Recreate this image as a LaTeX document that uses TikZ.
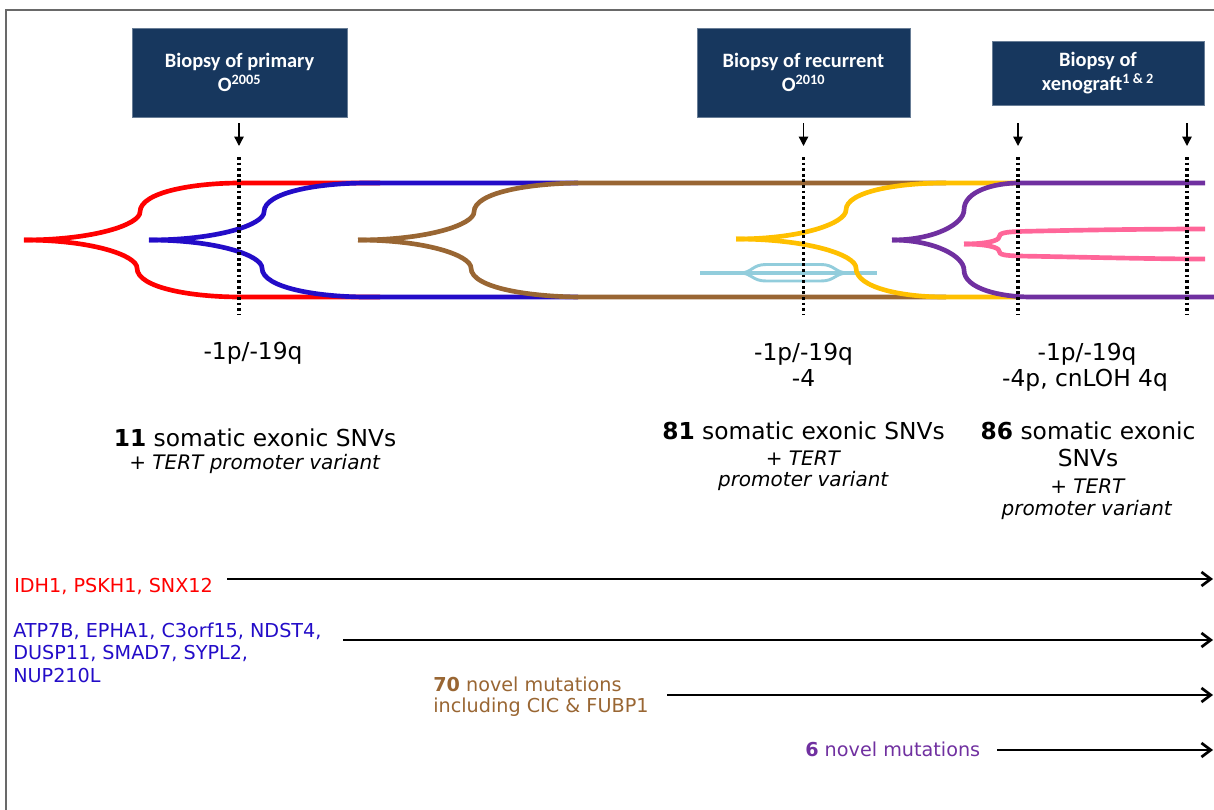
\documentclass[tikz,border=0pt]{standalone}
\usepackage{fontspec}
\setmainfont{DejaVu Sans}
\newfontfamily\boxfont{Carlito}
\usetikzlibrary{arrows.meta}
\definecolor{cred}{RGB}{255,0,0}
\definecolor{cblue}{RGB}{35,12,200}
\definecolor{cbrown}{RGB}{153,102,51}
\definecolor{cyellow}{RGB}{255,192,0}
\definecolor{clight}{RGB}{146,205,220}
\definecolor{cpurple}{RGB}{112,48,160}
\definecolor{cpink}{RGB}{255,102,153}
\definecolor{cnavy}{RGB}{23,55,94}
\definecolor{cframe}{RGB}{105,105,105}
% clade branch: style, root x,y, inflection x,y, join x,y, end x
\newcommand{\drawclade}[8]{%
  \draw[clade,#1] (#2,#3) .. controls ({#2+0.6*(#4-#2)},#3) and (#4,{#3+0.55*(#5-#3)}) .. (#4,#5)
     .. controls (#4,{#5+0.7*(#7-#5)}) and ({#4+0.55*(#6-#4)},#7) .. (#6,#7) -- (#8,#7);}
\tikzset{
  clade/.style={line width=3.5pt},
  biopsybox/.style={fill=cnavy, draw=cnavy!65!white, line width=0.4pt, text=white,
    font=\boxfont\bfseries\fontsize{15.3}{18.3}\selectfont, align=center, inner sep=0pt},
  marker/.style={-{Triangle[width=7pt,length=7pt]}, line width=1pt},
  sampleline/.style={line width=2.6pt, dash pattern=on 2.1pt off 2.1pt},
  timeline/.style={-{Straight Barb[length=7pt,width=10.5pt]}, line width=2pt},
  bigtext/.style={anchor=base, inner sep=0pt, font=\fontsize{17.5}{21}\selectfont},
  ittext/.style={anchor=base, inner sep=0pt, font=\fontsize{15}{18}\selectfont},
  genetext/.style={anchor=base west, inner sep=0pt, font=\fontsize{14.4}{17}\selectfont},
}
\begin{document}
\begin{tikzpicture}[x=0.75pt,y=-0.75pt]
\useasboundingbox (0,0) rectangle (1214,810);
% frame
\draw[cframe, line width=1.1pt] (6,810) -- (6,10) -- (1214,10);

% biopsy boxes
\node[biopsybox, minimum width=161.25pt, minimum height=66.75pt] (b1) at (239.5,72.5) {Biopsy of primary\\O\textsuperscript{2005}};
\node[biopsybox, minimum width=159.75pt, minimum height=66.75pt] (b2) at (803.5,72.5) {Biopsy of recurrent\\O\textsuperscript{2010}};
\node[biopsybox, minimum width=159pt, minimum height=48pt] (b3) at (1098,73) {Biopsy of\\xenograft\textsuperscript{1 \& 2}};

% clades
\drawclade{cred}{24}{240}{140}{212}{240}{183}{380}
\drawclade{cred}{24}{240}{137}{268}{240}{297}{380}
\drawclade{cblue}{149}{240}{264}{212}{367}{183}{578}
\drawclade{cblue}{149}{240}{262}{268}{367}{297}{578}
\drawclade{cbrown}{358}{240}{474}{212}{582}{183}{946}
\drawclade{cbrown}{358}{240}{471}{268}{582}{297}{946}
% light blue minor clone
\draw[clight, line width=3.3pt] (700,273) -- (877,273);
\draw[clight, line width=2.2pt] (740,273) .. controls (752,273) and (752,264.5) .. (766,264.5) -- (821,264.5) .. controls (835,264.5) and (835,273) .. (848,273);
\draw[clight, line width=2.2pt] (740,273) .. controls (752,273) and (752,281) .. (766,281) -- (821,281) .. controls (835,281) and (835,273) .. (848,273);
\drawclade{cyellow}{736}{239}{846}{210}{944}{183}{1020}
\drawclade{cyellow}{736}{239}{856}{268}{944}{297}{1020}
\drawclade{cpurple}{892}{240}{964}{210}{1019}{183}{1205}
\drawclade{cpurple}{892}{240}{964}{270}{1031}{297}{1214}
% pink sub-clones
\draw[cpink, clade] (964,244) .. controls (985,244) and (999,241) .. (999,237) .. controls (999,233) and (1006,232) .. (1018,231.5) .. controls (1080,230) and (1150,229) .. (1205,229);
\draw[cpink, clade] (964,244) .. controls (985,244) and (999,247) .. (999,251) .. controls (999,255) and (1006,255.5) .. (1018,256) .. controls (1080,257) and (1150,259) .. (1205,259);

% sampling time points
\foreach \sx/\nm in {239/s1, 803.5/s2, 1018/s3, 1187/s4}{
  \coordinate (\nm a) at (\sx,123);
  \coordinate (\nm b) at (\sx,146);
  \coordinate (\nm c) at (\sx,157);
  \coordinate (\nm d) at (\sx,315);
  \draw[marker] (\nm a) -- (\nm b);
  \draw[sampleline] (\nm c) -- (\nm d);
}

% copy number / SNV texts
\node[bigtext] (c1a) at (253,359.3) {-1p/-19q};
\node[bigtext] (c1b) at (255,446.7) {\textbf{11} somatic exonic SNVs};
\node[ittext] (c1c) at (255,469.5) {+ \textit{TERT promoter variant}};

\node[bigtext] (c2a) at (803.5,360.7) {-1p/-19q};
\node[bigtext] (c2b) at (803.5,386.7) {-4};
\node[bigtext] (c2c) at (803.5,439) {\textbf{81} somatic exonic SNVs};
\node[ittext] (c2d) at (803.5,465.7) {+ \textit{TERT}};
\node[ittext] (c2e) at (803.5,486.7) {\textit{promoter variant}};

\node[bigtext] (c3a) at (1087,360.7) {-1p/-19q};
\node[bigtext] (c3b) at (1085,386.7) {-4p, cnLOH 4q};
\node[bigtext] (c3c) at (1088,439) {\textbf{86} somatic exonic};
\node[bigtext] (c3d) at (1088,466.7) {SNVs};
\node[ittext] (c3e) at (1088,493) {+ \textit{TERT}};
\node[ittext] (c3f) at (1087,515) {\textit{promoter variant}};

% mutation timelines
\node[genetext, text=cred] (g1) at (14,592) {IDH1, PSKH1, SNX12};
\node[genetext, text=cblue] (g2a) at (13,637) {ATP7B, EPHA1, C3orf15, NDST4,};
\node[genetext, text=cblue] (g2b) at (13,659.7) {DUSP11, SMAD7, SYPL2,};
\node[genetext, text=cblue] (g2c) at (13,682.3) {NUP210L};
\node[genetext, text=cbrown] (g3a) at (433,691.7) {\textbf{70} novel mutations};
\node[genetext, text=cbrown] (g3b) at (433,712.7) {including CIC \& FUBP1};
\node[genetext, text=cpurple] (g4) at (805,756) {\textbf{6} novel mutations};

\coordinate (t1a) at (227,579);  \coordinate (t1b) at (1213,579);
\coordinate (t2a) at (343,640);  \coordinate (t2b) at (1213,640);
\coordinate (t3a) at (667,695);  \coordinate (t3b) at (1213,695);
\coordinate (t4a) at (997,750);  \coordinate (t4b) at (1213,750);
\draw[timeline] (t1a) -- (t1b);
\draw[timeline] (t2a) -- (t2b);
\draw[timeline] (t3a) -- (t3b);
\draw[timeline] (t4a) -- (t4b);
\end{tikzpicture}
\end{document}
